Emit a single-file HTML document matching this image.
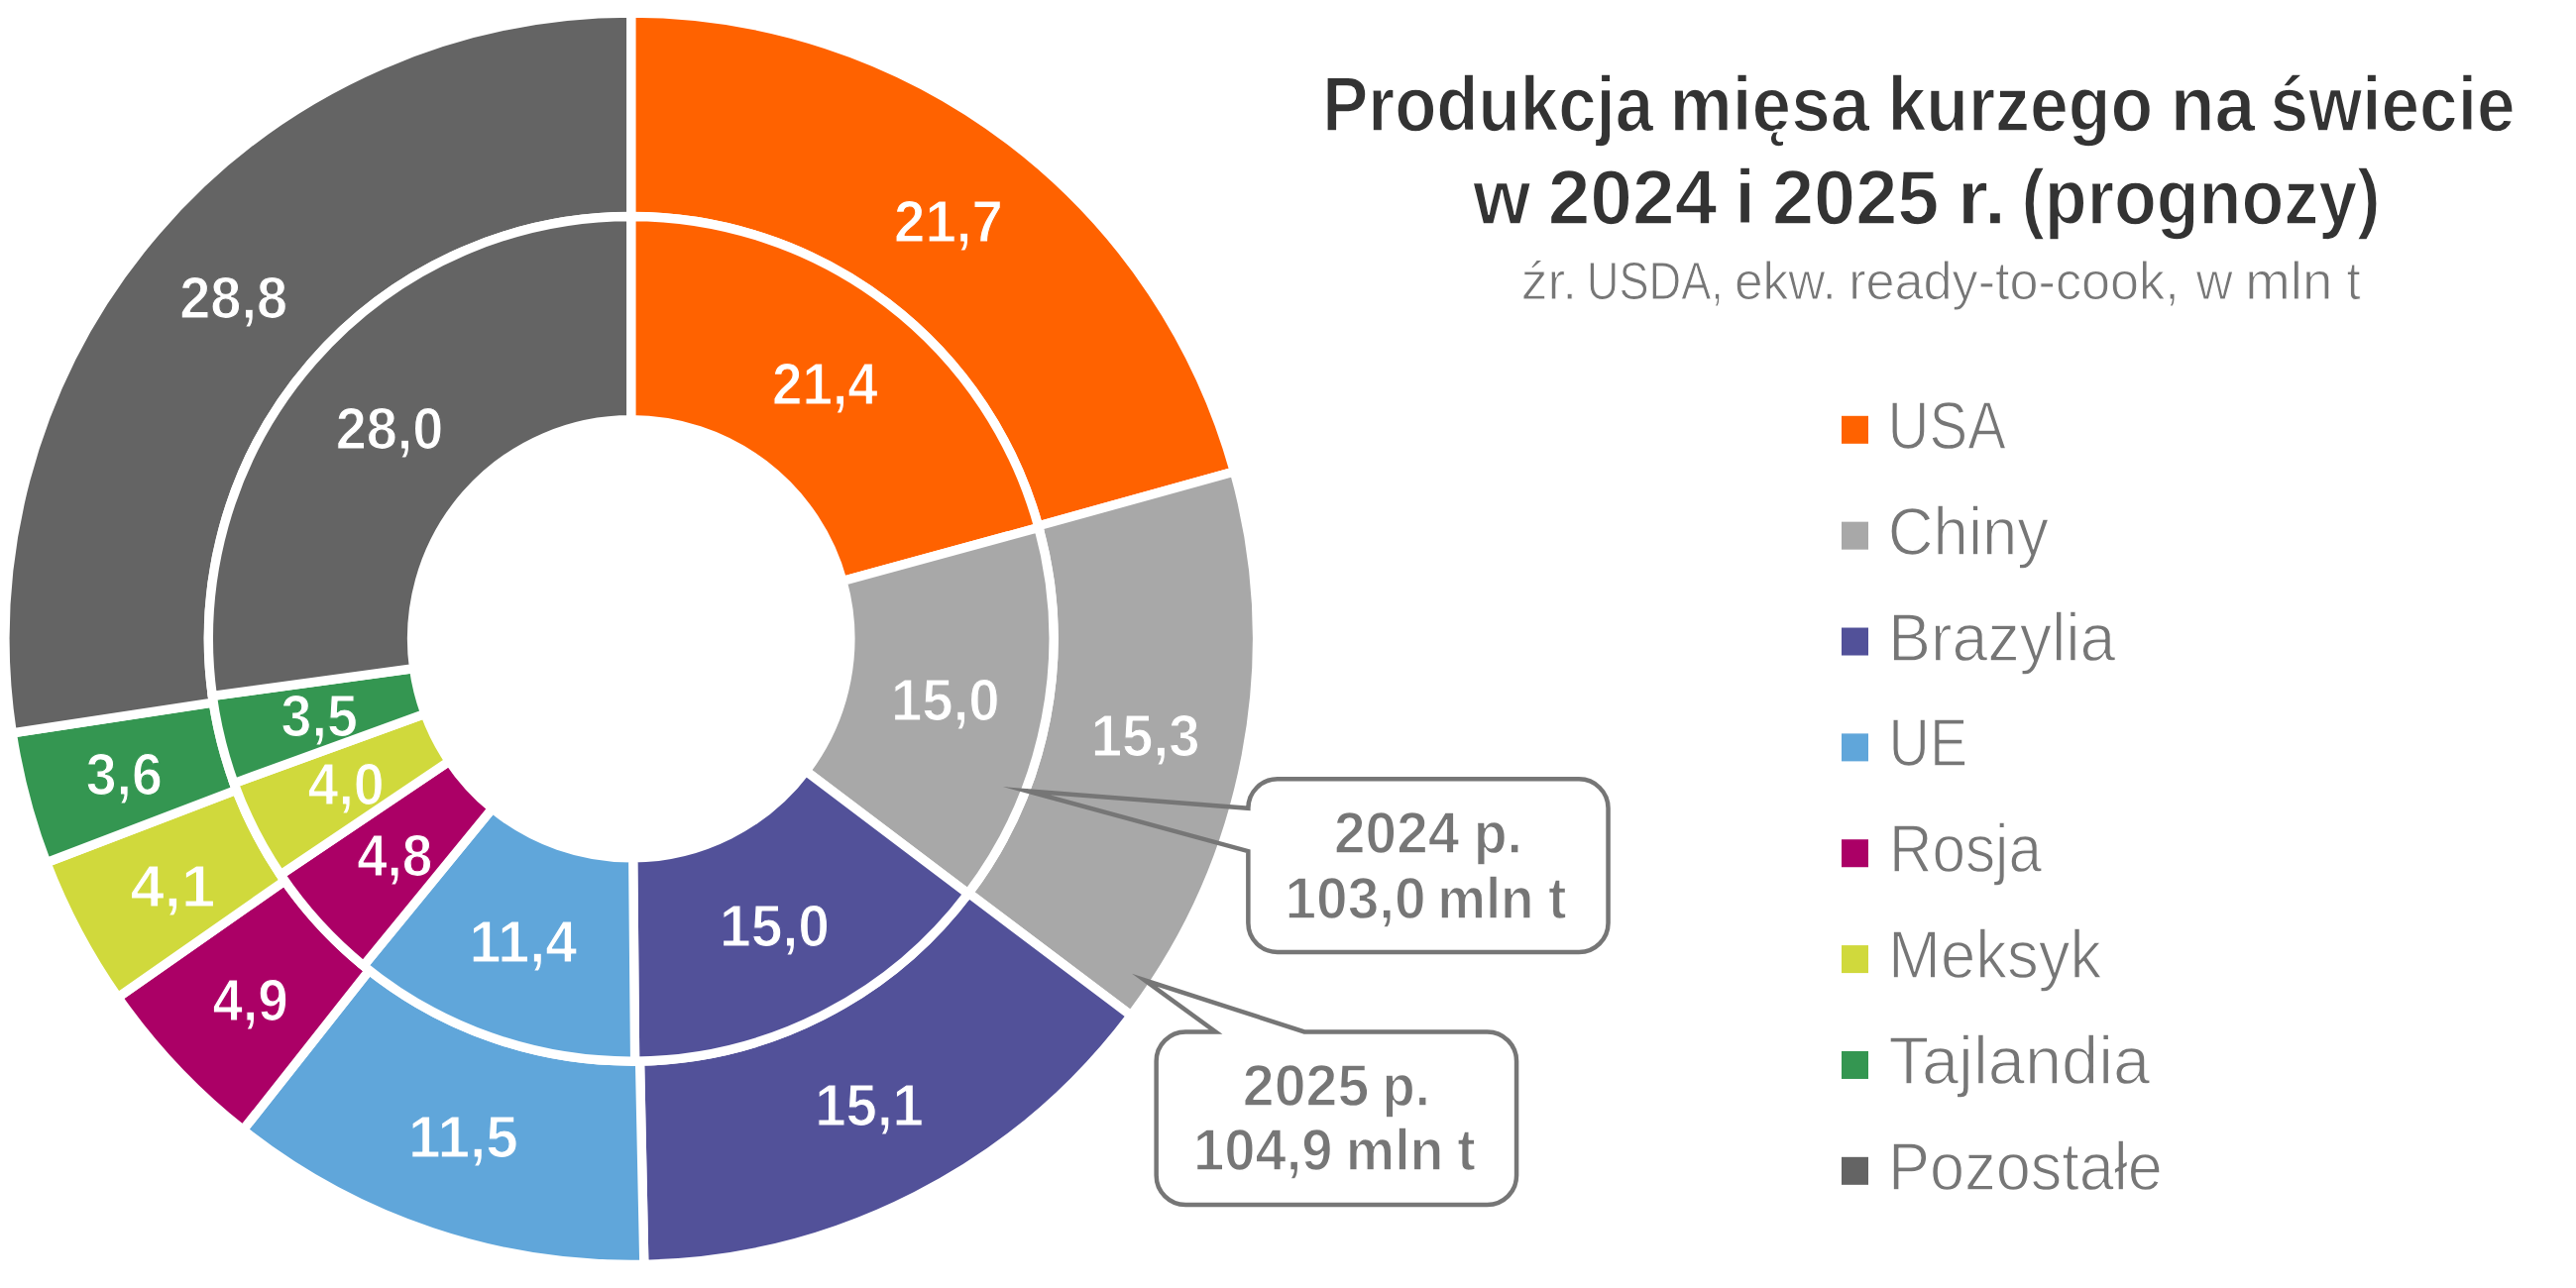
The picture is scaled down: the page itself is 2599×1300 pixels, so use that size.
<!DOCTYPE html>
<html lang="pl"><head><meta charset="utf-8"><title>Produkcja mięsa kurzego na świecie</title>
<style>html,body{margin:0;padding:0;background:#fff;}body{width:2599px;height:1300px;overflow:hidden;}svg{display:block;}</style>
</head><body>
<svg width="2599" height="1300" viewBox="0 0 2599 1300">
<g stroke="#fff" stroke-width="9.3"><path d="M636.70,13.15A631.65,631.65 0 0 1 1245.38,476.00L1047.50,530.88A426.30,426.30 0 0 0 636.70,218.50Z" fill="#FF6200"/><path d="M1245.38,476.00A631.65,631.65 0 0 1 1141.16,1024.94L977.16,901.35A426.30,426.30 0 0 0 1047.50,530.88Z" fill="#A8A8A8"/><path d="M1141.16,1024.94A631.65,631.65 0 0 1 649.82,1276.31L645.55,1071.01A426.30,426.30 0 0 0 977.16,901.35Z" fill="#525199"/><path d="M649.82,1276.31A631.65,631.65 0 0 1 245.22,1140.50L372.49,979.35A426.30,426.30 0 0 0 645.55,1071.01Z" fill="#60A6DA"/><path d="M245.22,1140.50A631.65,631.65 0 0 1 118.97,1006.65L287.28,889.01A426.30,426.30 0 0 0 372.49,979.35Z" fill="#AB0066"/><path d="M118.97,1006.65A631.65,631.65 0 0 1 46.81,870.65L238.58,797.22A426.30,426.30 0 0 0 287.28,889.01Z" fill="#D0D93C"/><path d="M46.81,870.65A631.65,631.65 0 0 1 12.25,739.91L215.26,708.99A426.30,426.30 0 0 0 238.58,797.22Z" fill="#349651"/><path d="M12.25,739.91A631.65,631.65 0 0 1 636.70,13.15L636.70,218.50A426.30,426.30 0 0 0 215.26,708.99Z" fill="#646464"/><path d="M636.70,218.50A426.30,426.30 0 0 1 1047.94,532.48L850.04,586.53A221.15,221.15 0 0 0 636.70,423.65Z" fill="#FF6200"/><path d="M1047.94,532.48A426.30,426.30 0 0 1 976.71,901.95L813.09,778.20A221.15,221.15 0 0 0 850.04,586.53Z" fill="#A8A8A8"/><path d="M976.71,901.95A426.30,426.30 0 0 1 640.60,1071.08L638.72,865.94A221.15,221.15 0 0 0 813.09,778.20Z" fill="#525199"/><path d="M640.60,1071.08A426.30,426.30 0 0 1 366.79,974.77L496.68,815.98A221.15,221.15 0 0 0 638.72,865.94Z" fill="#60A6DA"/><path d="M366.79,974.77A426.30,426.30 0 0 1 283.10,882.92L453.27,768.33A221.15,221.15 0 0 0 496.68,815.98Z" fill="#AB0066"/><path d="M283.10,882.92A426.30,426.30 0 0 1 236.08,790.54L428.87,720.40A221.15,221.15 0 0 0 453.27,768.33Z" fill="#D0D93C"/><path d="M236.08,790.54A426.30,426.30 0 0 1 214.31,702.43L417.58,674.70A221.15,221.15 0 0 0 428.87,720.40Z" fill="#349651"/><path d="M214.31,702.43A426.30,426.30 0 0 1 636.70,218.50L636.70,423.65A221.15,221.15 0 0 0 417.58,674.70Z" fill="#646464"/></g>
<path d="M1288.85,786.35L1593.05,786.35A29.5,29.5 0 0 1 1622.55,815.85L1622.55,931.45A29.5,29.5 0 0 1 1593.05,960.95L1288.85,960.95A29.5,29.5 0 0 1 1259.35,931.45L1259.35,859.2L1035.6,798.2L1259.35,815.85A29.5,29.5 0 0 1 1288.85,786.35Z" fill="none" stroke="#767676" stroke-width="4.5" stroke-miterlimit="30"/>
<path d="M1196.15,1041.45L1226.5,1041.45L1154.8,989.3L1316,1041.45L1500.55,1041.45A29.5,29.5 0 0 1 1530.05,1070.95L1530.05,1186.55A29.5,29.5 0 0 1 1500.55,1216.05L1196.15,1216.05A29.5,29.5 0 0 1 1166.65,1186.55L1166.65,1070.95A29.5,29.5 0 0 1 1196.15,1041.45Z" fill="none" stroke="#767676" stroke-width="4.5" stroke-miterlimit="30"/>
<rect x="1858" y="419.80" width="27" height="28" fill="#FF6200"/>
<rect x="1858" y="526.66" width="27" height="28" fill="#A8A8A8"/>
<rect x="1858" y="633.52" width="27" height="28" fill="#525199"/>
<rect x="1858" y="740.38" width="27" height="28" fill="#60A6DA"/>
<rect x="1858" y="847.24" width="27" height="28" fill="#AB0066"/>
<rect x="1858" y="954.10" width="27" height="28" fill="#D0D93C"/>
<rect x="1858" y="1060.96" width="27" height="28" fill="#349651"/>
<rect x="1858" y="1167.82" width="27" height="28" fill="#646464"/>
<g font-family="&quot;Liberation Sans&quot;, sans-serif">
<text x="956.97" y="244.14" font-size="59.6" font-weight="bold" fill="#fff" stroke="#FF6200" stroke-width="1.2" stroke-linejoin="round" text-anchor="middle" textLength="109.76" lengthAdjust="spacingAndGlyphs">21,7</text>
<text x="1155.62" y="763.07" font-size="59.6" font-weight="bold" fill="#fff" stroke="#A8A8A8" stroke-width="1.2" stroke-linejoin="round" text-anchor="middle" textLength="109.77" lengthAdjust="spacingAndGlyphs">15,3</text>
<text x="877.08" y="1135.76" font-size="59.6" font-weight="bold" fill="#fff" stroke="#525199" stroke-width="1.2" stroke-linejoin="round" text-anchor="middle" textLength="109.76" lengthAdjust="spacingAndGlyphs">15,1</text>
<text x="467.48" y="1167.62" font-size="59.6" font-weight="bold" fill="#fff" stroke="#60A6DA" stroke-width="1.2" stroke-linejoin="round" text-anchor="middle" textLength="110.83" lengthAdjust="spacingAndGlyphs">11,5</text>
<text x="252.65" y="1029.93" font-size="59.6" font-weight="bold" fill="#fff" stroke="#AB0066" stroke-width="1.2" stroke-linejoin="round" text-anchor="middle" textLength="76.17" lengthAdjust="spacingAndGlyphs">4,9</text>
<text x="174.44" y="914.78" font-size="59.6" font-weight="bold" fill="#fff" stroke="#D0D93C" stroke-width="1.2" stroke-linejoin="round" text-anchor="middle" textLength="85.67" lengthAdjust="spacingAndGlyphs">4,1</text>
<text x="125.25" y="801.65" font-size="59.6" font-weight="bold" fill="#fff" stroke="#349651" stroke-width="1.2" stroke-linejoin="round" text-anchor="middle" textLength="77.23" lengthAdjust="spacingAndGlyphs">3,6</text>
<text x="235.68" y="321.04" font-size="59.6" font-weight="bold" fill="#fff" stroke="#646464" stroke-width="1.2" stroke-linejoin="round" text-anchor="middle" textLength="108.71" lengthAdjust="spacingAndGlyphs">28,8</text>
<text x="832.31" y="408.22" font-size="59.6" font-weight="bold" fill="#fff" stroke="#FF6200" stroke-width="1.2" stroke-linejoin="round" text-anchor="middle" textLength="106.65" lengthAdjust="spacingAndGlyphs">21,4</text>
<text x="953.81" y="726.78" font-size="59.6" font-weight="bold" fill="#fff" stroke="#A8A8A8" stroke-width="1.2" stroke-linejoin="round" text-anchor="middle" textLength="109.77" lengthAdjust="spacingAndGlyphs">15,0</text>
<text x="781.48" y="954.65" font-size="59.6" font-weight="bold" fill="#fff" stroke="#525199" stroke-width="1.2" stroke-linejoin="round" text-anchor="middle" textLength="110.86" lengthAdjust="spacingAndGlyphs">15,0</text>
<text x="527.93" y="970.86" font-size="59.6" font-weight="bold" fill="#fff" stroke="#60A6DA" stroke-width="1.2" stroke-linejoin="round" text-anchor="middle" textLength="108.70" lengthAdjust="spacingAndGlyphs">11,4</text>
<text x="398.21" y="883.51" font-size="59.6" font-weight="bold" fill="#fff" stroke="#AB0066" stroke-width="1.2" stroke-linejoin="round" text-anchor="middle" textLength="76.17" lengthAdjust="spacingAndGlyphs">4,8</text>
<text x="349.14" y="812.32" font-size="59.6" font-weight="bold" fill="#fff" stroke="#D0D93C" stroke-width="1.2" stroke-linejoin="round" text-anchor="middle" textLength="77.24" lengthAdjust="spacingAndGlyphs">4,0</text>
<text x="322.18" y="743.15" font-size="59.6" font-weight="bold" fill="#fff" stroke="#349651" stroke-width="1.2" stroke-linejoin="round" text-anchor="middle" textLength="77.24" lengthAdjust="spacingAndGlyphs">3,5</text>
<text x="393.09" y="452.64" font-size="59.6" font-weight="bold" fill="#fff" stroke="#646464" stroke-width="1.2" stroke-linejoin="round" text-anchor="middle" textLength="108.71" lengthAdjust="spacingAndGlyphs">28,0</text>
<text x="1334.19" y="131.70" font-size="78.5" font-weight="bold" fill="#333333" stroke="#fff" stroke-width="1.6" stroke-linejoin="round" textLength="334.04" lengthAdjust="spacingAndGlyphs">Produkcja</text>
<text x="1684.56" y="131.70" font-size="78.5" font-weight="bold" fill="#333333" stroke="#fff" stroke-width="1.6" stroke-linejoin="round" textLength="201.72" lengthAdjust="spacingAndGlyphs">mięsa</text>
<text x="1904.38" y="131.70" font-size="78.5" font-weight="bold" fill="#333333" stroke="#fff" stroke-width="1.6" stroke-linejoin="round" textLength="267.82" lengthAdjust="spacingAndGlyphs">kurzego</text>
<text x="2189.63" y="131.70" font-size="78.5" font-weight="bold" fill="#333333" stroke="#fff" stroke-width="1.6" stroke-linejoin="round" textLength="85.62" lengthAdjust="spacingAndGlyphs">na</text>
<text x="2290.57" y="131.70" font-size="78.5" font-weight="bold" fill="#333333" stroke="#fff" stroke-width="1.6" stroke-linejoin="round" textLength="246.97" lengthAdjust="spacingAndGlyphs">świecie</text>
<text x="1486.19" y="226.00" font-size="78.5" font-weight="bold" fill="#333333" stroke="#fff" stroke-width="1.6" stroke-linejoin="round" textLength="58.01" lengthAdjust="spacingAndGlyphs">w</text>
<text x="1561.66" y="226.00" font-size="78.5" font-weight="bold" fill="#333333" stroke="#fff" stroke-width="1.6" stroke-linejoin="round" textLength="170.70" lengthAdjust="spacingAndGlyphs">2024</text>
<text x="1750.13" y="226.00" font-size="78.5" font-weight="bold" fill="#333333" stroke="#fff" stroke-width="1.6" stroke-linejoin="round" textLength="20.72" lengthAdjust="spacingAndGlyphs">i</text>
<text x="1787.95" y="226.00" font-size="78.5" font-weight="bold" fill="#333333" stroke="#fff" stroke-width="1.6" stroke-linejoin="round" textLength="168.45" lengthAdjust="spacingAndGlyphs">2025</text>
<text x="1974.65" y="226.00" font-size="78.5" font-weight="bold" fill="#333333" stroke="#fff" stroke-width="1.6" stroke-linejoin="round" textLength="49.45" lengthAdjust="spacingAndGlyphs">r.</text>
<text x="2039.51" y="226.00" font-size="78.5" font-weight="bold" fill="#333333" stroke="#fff" stroke-width="1.6" stroke-linejoin="round" textLength="362.18" lengthAdjust="spacingAndGlyphs">(prognozy)</text>
<text x="1534.83" y="301.52" font-size="53.8" font-weight="normal" fill="#767676" stroke="#fff" stroke-width="1.05" stroke-linejoin="round" textLength="56.35" lengthAdjust="spacingAndGlyphs">źr.</text>
<text x="1600.81" y="301.52" font-size="53.8" font-weight="normal" fill="#767676" stroke="#fff" stroke-width="1.05" stroke-linejoin="round" textLength="138.02" lengthAdjust="spacingAndGlyphs">USDA,</text>
<text x="1750.00" y="301.52" font-size="53.8" font-weight="normal" fill="#767676" stroke="#fff" stroke-width="1.05" stroke-linejoin="round" textLength="102.90" lengthAdjust="spacingAndGlyphs">ekw.</text>
<text x="1865.18" y="301.52" font-size="53.8" font-weight="normal" fill="#767676" stroke="#fff" stroke-width="1.05" stroke-linejoin="round" textLength="333.53" lengthAdjust="spacingAndGlyphs">ready-to-cook,</text>
<text x="2215.80" y="301.52" font-size="53.8" font-weight="normal" fill="#767676" stroke="#fff" stroke-width="1.05" stroke-linejoin="round" textLength="36.91" lengthAdjust="spacingAndGlyphs">w</text>
<text x="2265.34" y="301.52" font-size="53.8" font-weight="normal" fill="#767676" stroke="#fff" stroke-width="1.05" stroke-linejoin="round" textLength="88.05" lengthAdjust="spacingAndGlyphs">mln</text>
<text x="2367.51" y="301.52" font-size="53.8" font-weight="normal" fill="#767676" stroke="#fff" stroke-width="1.05" stroke-linejoin="round" textLength="14.20" lengthAdjust="spacingAndGlyphs">t</text>
<text x="1346.04" y="860.80" font-size="58.6" font-weight="bold" fill="#767676" stroke="#fff" stroke-width="1.4" stroke-linejoin="round" textLength="126.25" lengthAdjust="spacingAndGlyphs">2024</text>
<text x="1486.65" y="860.80" font-size="58.6" font-weight="bold" fill="#767676" stroke="#fff" stroke-width="1.4" stroke-linejoin="round" textLength="49.26" lengthAdjust="spacingAndGlyphs">p.</text>
<text x="1296.39" y="926.70" font-size="58.6" font-weight="bold" fill="#767676" stroke="#fff" stroke-width="1.4" stroke-linejoin="round" textLength="142.39" lengthAdjust="spacingAndGlyphs">103,0</text>
<text x="1450.13" y="926.70" font-size="58.6" font-weight="bold" fill="#767676" stroke="#fff" stroke-width="1.4" stroke-linejoin="round" textLength="97.48" lengthAdjust="spacingAndGlyphs">mln</text>
<text x="1562.08" y="926.70" font-size="58.6" font-weight="bold" fill="#767676" stroke="#fff" stroke-width="1.4" stroke-linejoin="round" textLength="18.54" lengthAdjust="spacingAndGlyphs">t</text>
<text x="1253.82" y="1115.80" font-size="58.6" font-weight="bold" fill="#767676" stroke="#fff" stroke-width="1.4" stroke-linejoin="round" textLength="127.49" lengthAdjust="spacingAndGlyphs">2025</text>
<text x="1394.60" y="1115.80" font-size="58.6" font-weight="bold" fill="#767676" stroke="#fff" stroke-width="1.4" stroke-linejoin="round" textLength="48.37" lengthAdjust="spacingAndGlyphs">p.</text>
<text x="1204.01" y="1181.20" font-size="58.6" font-weight="bold" fill="#767676" stroke="#fff" stroke-width="1.4" stroke-linejoin="round" textLength="140.60" lengthAdjust="spacingAndGlyphs">104,9</text>
<text x="1357.83" y="1181.20" font-size="58.6" font-weight="bold" fill="#767676" stroke="#fff" stroke-width="1.4" stroke-linejoin="round" textLength="98.64" lengthAdjust="spacingAndGlyphs">mln</text>
<text x="1470.17" y="1181.20" font-size="58.6" font-weight="bold" fill="#767676" stroke="#fff" stroke-width="1.4" stroke-linejoin="round" textLength="18.54" lengthAdjust="spacingAndGlyphs">t</text>
<text x="1904.61" y="452.88" font-size="68.4" font-weight="normal" fill="#767676" stroke="#fff" stroke-width="1.36" stroke-linejoin="round" textLength="119.22" lengthAdjust="spacingAndGlyphs">USA</text>
<text x="1904.75" y="559.74" font-size="68.4" font-weight="normal" fill="#767676" stroke="#fff" stroke-width="1.36" stroke-linejoin="round" textLength="162.27" lengthAdjust="spacingAndGlyphs">Chiny</text>
<text x="1905.00" y="666.60" font-size="68.4" font-weight="normal" fill="#767676" stroke="#fff" stroke-width="1.36" stroke-linejoin="round" textLength="229.43" lengthAdjust="spacingAndGlyphs">Brazylia</text>
<text x="1905.58" y="773.46" font-size="68.4" font-weight="normal" fill="#767676" stroke="#fff" stroke-width="1.36" stroke-linejoin="round" textLength="79.51" lengthAdjust="spacingAndGlyphs">UE</text>
<text x="1905.88" y="880.32" font-size="68.4" font-weight="normal" fill="#767676" stroke="#fff" stroke-width="1.36" stroke-linejoin="round" textLength="154.02" lengthAdjust="spacingAndGlyphs">Rosja</text>
<text x="1905.03" y="987.18" font-size="68.4" font-weight="normal" fill="#767676" stroke="#fff" stroke-width="1.36" stroke-linejoin="round" textLength="215.27" lengthAdjust="spacingAndGlyphs">Meksyk</text>
<text x="1905.55" y="1094.04" font-size="68.4" font-weight="normal" fill="#767676" stroke="#fff" stroke-width="1.36" stroke-linejoin="round" textLength="263.65" lengthAdjust="spacingAndGlyphs">Tajlandia</text>
<text x="1905.07" y="1200.90" font-size="68.4" font-weight="normal" fill="#767676" stroke="#fff" stroke-width="1.36" stroke-linejoin="round" textLength="276.84" lengthAdjust="spacingAndGlyphs">Pozostałe</text>
</g></svg>
</body></html>
